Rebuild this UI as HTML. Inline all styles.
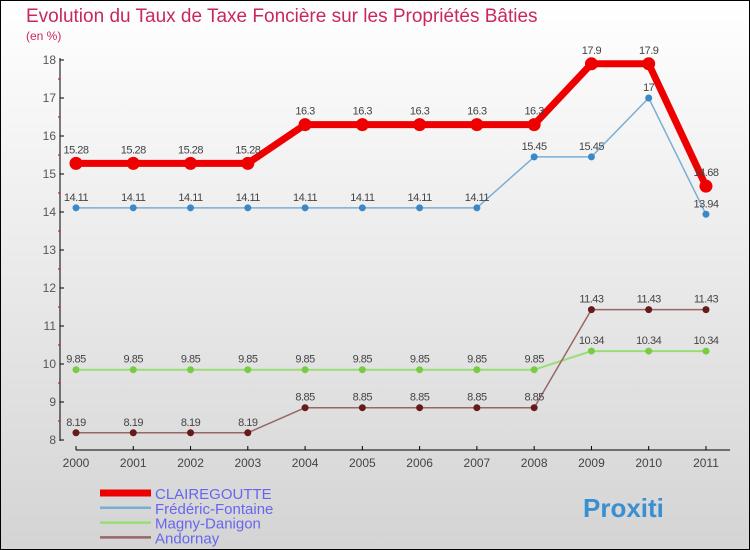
<!DOCTYPE html>
<html><head><meta charset="utf-8"><style>
body{margin:0}
svg{display:block;font-family:"Liberation Sans",sans-serif}
</style></head><body>
<svg id="c" width="750" height="550" xmlns="http://www.w3.org/2000/svg">
<defs><linearGradient id="bg" x1="0" y1="0" x2="0" y2="1"><stop offset="0" stop-color="#ffffff"/><stop offset="1" stop-color="#d4d4d4"/></linearGradient></defs>
<rect x="0.5" y="0.5" width="749" height="549" fill="url(#bg)" stroke="#000"/>
<text x="26" y="22" font-size="19" fill="#c8285a">Evolution du Taux de Taxe Foncière sur les Propriétés Bâties</text>
<text x="26" y="40" font-size="12" fill="#c8285a">(en %)</text>
<g id="axes"></g><g id="series"></g><g id="legend"></g>
</svg>
<script>
const years=["2000","2001","2002","2003","2004","2005","2006","2007","2008","2009","2010","2011"];
const yTicks=[8,9,10,11,12,13,14,15,16,17,18];
const clairegoutte=[15.28,15.28,15.28,15.28,16.3,16.3,16.3,16.3,16.3,17.9,17.9,14.68];
const fredericFontaine=[14.11,14.11,14.11,14.11,14.11,14.11,14.11,14.11,15.45,15.45,17,13.94];
const magnyDanigon=[9.85,9.85,9.85,9.85,9.85,9.85,9.85,9.85,9.85,10.34,10.34,10.34];
const andornay=[8.19,8.19,8.19,8.19,8.85,8.85,8.85,8.85,8.85,11.43,11.43,11.43];
const seriesNames=["CLAIREGOUTTE","Frédéric-Fontaine","Magny-Danigon","Andornay"];
const NS="http://www.w3.org/2000/svg";
const X=i=>76+i*57.27, Y=v=>440-(v-8)*38;
function mk(tag,parent,attrs){const e=document.createElementNS(NS,tag);for(const k in attrs)e.setAttribute(k,attrs[k]);parent.appendChild(e);return e;}
const ax=document.getElementById('axes');
const yAxis=mk('line',ax,{x1:60,y1:58,x2:60,y2:441,stroke:'#000'});


const xAxis=mk('line',ax,{x1:76,y1:450,x2:730,y2:450,stroke:'#000'});


yTicks.forEach(v=>{
  mk('line',ax,{x1:60,y1:Y(v),x2:64,y2:Y(v),stroke:'#000'});
  if(v<18) mk('line',ax,{x1:58,y1:Y(v+0.5),x2:60,y2:Y(v+0.5),stroke:'#d00'});
  const t=mk('text',ax,{x:56,y:Y(v)+4,'font-size':12,fill:'#555','text-anchor':'end'});
  t.textContent=v;
  
  
});
years.forEach((y,i)=>{
  mk('line',ax,{x1:X(i),y1:446,x2:X(i),y2:450,stroke:'#000'});
  const t=mk('text',ax,{x:X(i),y:467,'font-size':12,fill:'#444','text-anchor':'middle'});
  t.textContent=y;
  
  
});
const sg=document.getElementById('series');
const defs=[[clairegoutte,'#ee0000','#ee0000',7,6.5,'clairegoutte'],[fredericFontaine,'#7aaed6','#3a88c8',1.5,3.5,'frederic-fontaine'],[magnyDanigon,'#99dd77','#77cc44',2,3.5,'magny-danigon'],[andornay,'#996666','#661a1a',1.5,3.5,'andornay']];
defs.forEach(([d,lc,pc,w,r,n])=>{
  const p=mk('polyline',sg,{points:d.map((v,i)=>X(i)+','+Y(v)).join(' '),fill:'none',stroke:lc,'stroke-width':w,'stroke-linejoin':'round'});
  
  
  d.forEach((v,i)=>{
    const c=mk('circle',sg,{cx:X(i),cy:Y(v),r:r,fill:pc});
    
    
    const t=mk('text',sg,{x:X(i),y:Y(v)-(n==='clairegoutte'?10:7),'font-size':11,fill:'#444','text-anchor':'middle','letter-spacing':'-0.5'});
    t.textContent=v;
    
    
  });
});
const lg=document.getElementById('legend');
defs.forEach(([d,lc,pc,w,r,n],k)=>{
  const y=493+k*14.8;
  mk('line',lg,{x1:100,y1:y,x2:151,y2:y,stroke:k===0?'#ee0000':lc,'stroke-width':k===0?7:2.5});
  const t=mk('text',lg,{x:155,y:y+6,'font-size':15,fill:'#6666ee'});
  t.textContent=seriesNames[k];
  
  
});
const logo=mk('text',lg,{x:583,y:517,'font-size':26,'font-weight':'bold',fill:'#3a8fd0'});
logo.textContent='Proxiti';


</script>
</body></html>
